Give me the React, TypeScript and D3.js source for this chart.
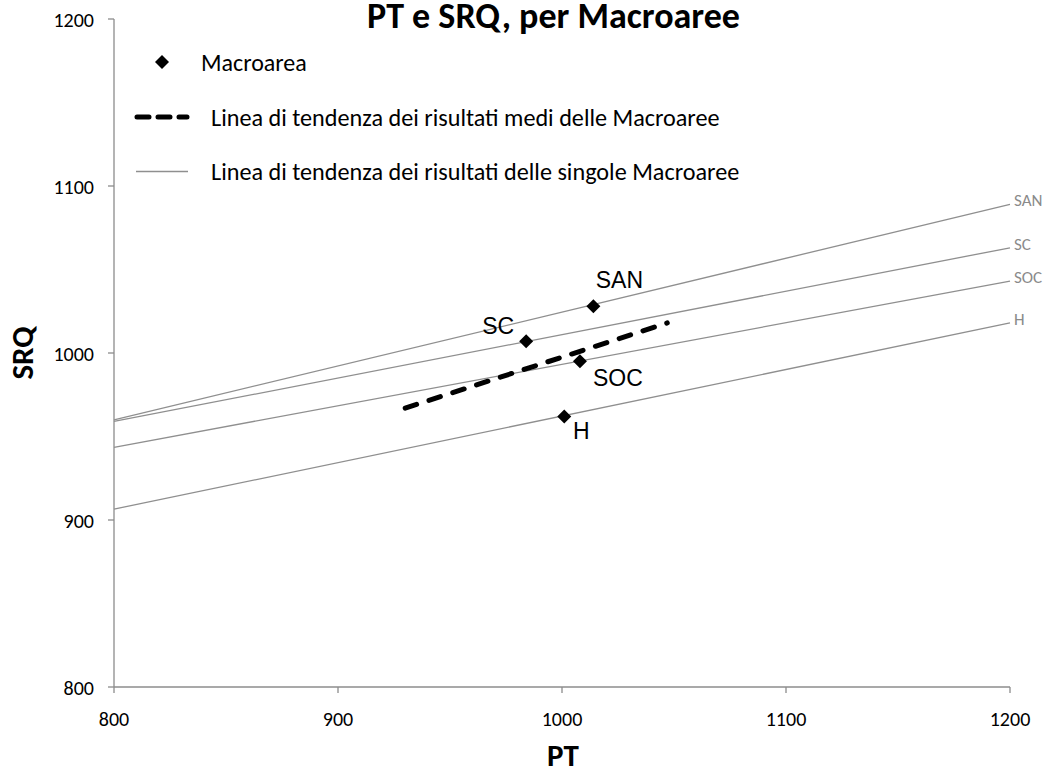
import React from "react";
import * as d3 from "d3";

const categories = ["SAN", "SC", "SOC", "H"];
const ptValues = [1014, 984, 1008, 1001];
const srqValues = [1028, 1007, 995, 962];
// individual trend lines: SRQ at PT = 800 and at PT = 1200
const trendPt = [800, 1200];
const trendStart = [960, 959, 943.5, 906.5];
const trendEnd = [1089, 1063, 1043, 1018];
// mean trend line
const meanPt = [930, 1047];
const meanSrq = [967, 1018];
const xTicks = [800, 900, 1000, 1100, 1200];
const yTicks = [800, 900, 1000, 1100, 1200];

// label offsets relative to the point (dx to centre, dy to baseline)
const labelOffsets: Record<string, [number, number]> = {
  SAN: [26, -18],
  SC: [-28, -7],
  SOC: [38, 25],
  H: [17, 23],
};

const W = 1048;
const H = 776;
const CAL = "Carlito, 'Open Sans', sans-serif";
const ARIAL = "'Liberation Sans', Arial, sans-serif";

export default function App() {
  const x = d3.scaleLinear().domain([800, 1200]).range([114, 1010]);
  const y = d3.scaleLinear().domain([800, 1200]).range([687, 19]);
  const line = d3
    .line<[number, number]>()
    .x((d) => x(d[0]))
    .y((d) => y(d[1]));
  const diamond = d3.symbol().type(d3.symbolDiamond2).size(125);
  const axisColor = "#8c8c8c";
  const trendColor = "#8f8f8f";

  return (
    <svg
      width={W}
      height={H}
      style={{ position: "absolute", left: 0, top: 0, background: "#fff" }}
    >
      {/* title */}
      <text
        x={553.5}
        y={28}
        textAnchor="middle"
        fontFamily={CAL}
        fontWeight="bold"
        fontSize={36}
        fill="#000"
      >
        PT e SRQ, per Macroaree
      </text>

      {/* axes */}
      <line x1={x(800)} x2={x(800)} y1={y(1200)} y2={y(800)} stroke={axisColor} strokeWidth={1.3} />
      <line x1={x(800)} x2={x(1200)} y1={y(800)} y2={y(800)} stroke={axisColor} strokeWidth={1.3} />
      {yTicks.map((t) => (
        <g key={"y" + t}>
          <line x1={x(800) - 6} x2={x(800)} y1={y(t)} y2={y(t)} stroke={axisColor} strokeWidth={1.3} />
          <text x={94} y={y(t) + 8} textAnchor="end" fontFamily={CAL} fontSize={20} fill="#000">
            {t}
          </text>
        </g>
      ))}
      {xTicks.map((t) => (
        <g key={"x" + t}>
          <line x1={x(t)} x2={x(t)} y1={y(800)} y2={y(800) + 6} stroke={axisColor} strokeWidth={1.3} />
          <text x={x(t)} y={y(800) + 39} textAnchor="middle" fontFamily={CAL} fontSize={20} fill="#000">
            {t}
          </text>
        </g>
      ))}

      {/* axis titles */}
      <text x={563} y={766} textAnchor="middle" fontFamily={CAL} fontWeight="bold" fontSize={31} fill="#000">
        PT
      </text>
      <text
        transform={`translate(33,${353}) rotate(-90)`}
        textAnchor="middle"
        fontFamily={CAL}
        fontWeight="bold"
        fontSize={31}
        fill="#000"
      >
        SRQ
      </text>

      {/* individual trend lines */}
      {categories.map((c, i) => (
        <g key={"t" + c}>
          <path
            d={line([
              [trendPt[0], trendStart[i]],
              [trendPt[1], trendEnd[i]],
            ]) || ""}
            stroke={trendColor}
            strokeWidth={1.3}
            fill="none"
          />
          <text
            x={x(1200) + 4}
            y={y(trendEnd[i]) + 2}
            fontFamily={CAL}
            fontSize={17}
            fill="#8a8a8a"
          >
            {c}
          </text>
        </g>
      ))}

      {/* mean trend line */}
      <path
        d={line([
          [meanPt[0], meanSrq[0]],
          [meanPt[1], meanSrq[1]],
        ]) || ""}
        stroke="#000"
        strokeWidth={5}
        strokeDasharray="12 13"
        strokeLinecap="round"
        fill="none"
      />

      {/* points */}
      {categories.map((c, i) => (
        <g key={"p" + c}>
          <path
            d={diamond() || ""}
            transform={`translate(${x(ptValues[i])},${y(srqValues[i])})`}
            fill="#000"
          />
          <text
            x={x(ptValues[i]) + labelOffsets[c][0]}
            y={y(srqValues[i]) + labelOffsets[c][1]}
            textAnchor="middle"
            fontFamily={ARIAL}
            fontSize={23}
            fill="#000"
          >
            {c}
          </text>
        </g>
      ))}

      {/* legend */}
      <path d={diamond() || ""} transform="translate(162,62)" fill="#000" />
      <text x={201} y={71} fontFamily={CAL} fontSize={24} fill="#000">
        Macroarea
      </text>
      <line x1={137} x2={187} y1={117} y2={117} stroke="#000" strokeWidth={5} strokeDasharray="12 9" strokeLinecap="round" />
      <text x={211} y={126} fontFamily={CAL} fontSize={24.2} fill="#000">
        Linea di tendenza dei risultati medi delle Macroaree
      </text>
      <line x1={136} x2={188} y1={171.5} y2={171.5} stroke={trendColor} strokeWidth={1.3} />
      <text x={211} y={180} fontFamily={CAL} fontSize={24.2} fill="#000">
        Linea di tendenza dei risultati delle singole Macroaree
      </text>
    </svg>
  );
}
